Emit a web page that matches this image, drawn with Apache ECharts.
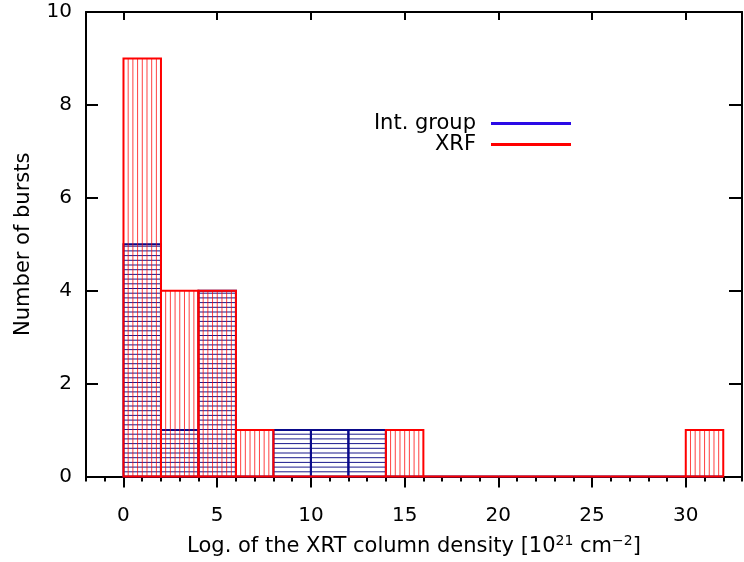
<!DOCTYPE html>
<html>
<head>
<meta charset="utf-8">
<script src="https://cdn.jsdelivr.net/npm/echarts@6/dist/echarts.min.js"></script>
<style>
  html, body { margin: 0; padding: 0; background: #fff; }
  #chart { width: 744px; height: 562px; }
</style>
</head>
<body>
<div id="chart"></div>
<script>
// histogram bins (left edges, width 2)
var binWidth = 2;
var binStarts = [0, 2, 4, 6, 8, 10, 12, 14, 16, 18, 20, 22, 24, 26, 28, 30];
var xrfCounts = [9, 4, 4, 1, 0, 0, 0, 1, 0, 0, 0, 0, 0, 0, 0, 1];
var intCounts = [5, 1, 4, 0, 1, 1, 1, 0, 0, 0, 0, 0, 0, 0, 0, 0];

// axis ticks
var xMajorTicks = [0, 5, 10, 15, 20, 25, 30];
var xMinorTicks = [];
for (var t = -2; t <= 33; t++) {
    if (t % 5 !== 0) xMinorTicks.push(t);
}

var font = 'DejaVu Sans';

// draws one bin: outline + hatch lines (vertical or horizontal)
function hatchRender(dir, hatchColor, edgeColor) {
    return function (params, api) {
        var x0 = api.value(0);
        var n = api.value(1);
        var p0 = api.coord([x0, 0]);
        var p1 = api.coord([x0 + binWidth, n]);
        var left = p0[0], right = p1[0], bottom = p0[1], top = p1[1];
        var step = 4.7;
        var children = [];
        if (dir === 'v') {
            for (var x = left + step; x < right - 1.5; x += step) {
                children.push({
                    type: 'line',
                    shape: {x1: x, y1: top, x2: x, y2: bottom},
                    style: {stroke: hatchColor, lineWidth: 1}
                });
            }
        } else {
            for (var y = bottom - step; y > top + 1.5; y -= step) {
                children.push({
                    type: 'line',
                    shape: {x1: left, y1: y, x2: right, y2: y},
                    style: {stroke: hatchColor, lineWidth: 1}
                });
            }
        }
        children.push({
            type: 'rect',
            shape: {x: left, y: top, width: right - left, height: bottom - top},
            style: {fill: null, stroke: edgeColor, lineWidth: 2}
        });
        return {type: 'group', children: children};
    };
}

var xrfData = binStarts.map(function (b, i) { return [b, xrfCounts[i]]; });
var intData = binStarts.map(function (b, i) { return [b, intCounts[i]]; });

var axisLineStyle = {color: '#000', width: 2};
var legendText = {fontFamily: font, fontSize: 21, color: '#000', padding: [0, 10, 0, 0]};

var option = {
    animation: false,
    backgroundColor: '#fff',
    grid: {left: 86, right: 2, top: 12, bottom: 85},
    legend: [
        {
            data: [{name: 'Int. group', itemStyle: {color: '#2a0ae6'}}],
            right: 168, top: 108,
            align: 'right', icon: 'rect',
            itemWidth: 80, itemHeight: 3,
            textStyle: legendText,
            selectedMode: false
        },
        {
            data: [{name: 'XRF', itemStyle: {color: '#ff0000'}}],
            right: 168, top: 129,
            align: 'right', icon: 'rect',
            itemWidth: 80, itemHeight: 3,
            textStyle: legendText,
            selectedMode: false
        }
    ],
    xAxis: [
        {
            type: 'value', position: 'bottom', min: -2, max: 33,
            axisLine: {onZero: false, lineStyle: axisLineStyle},
            axisTick: {customValues: xMajorTicks, length: 11, lineStyle: axisLineStyle},
            axisLabel: {customValues: xMajorTicks, margin: 29, fontFamily: font, fontSize: 20, color: '#000'},
            splitLine: {show: false},
            name: 'Log. of the XRT column density [10{sup|21} cm{sup|−2}]',
            nameLocation: 'middle', nameGap: 58,
            nameTextStyle: {
                fontFamily: font, fontSize: 21, color: '#000',
                rich: {sup: {fontFamily: font, fontSize: 14, color: '#000', verticalAlign: 'top', padding: [0, 0, 10, 0]}}
            }
        },
        {
            type: 'value', position: 'bottom', min: -2, max: 33,
            axisLine: {show: false},
            axisTick: {customValues: xMinorTicks, length: 5, lineStyle: axisLineStyle},
            axisLabel: {show: false},
            splitLine: {show: false}
        },
        {
            type: 'value', position: 'top', min: -2, max: 33,
            axisLine: {onZero: false, lineStyle: axisLineStyle},
            axisTick: {customValues: xMajorTicks, inside: true, length: 8, lineStyle: axisLineStyle},
            axisLabel: {show: false},
            splitLine: {show: false}
        }
    ],
    yAxis: [
        {
            type: 'value', position: 'left', min: 0, max: 10, interval: 2,
            axisLine: {show: true, onZero: false, lineStyle: axisLineStyle},
            axisTick: {inside: true, length: 12, lineStyle: axisLineStyle},
            axisLabel: {margin: 14, fontFamily: font, fontSize: 20, color: '#000'},
            splitLine: {show: false},
            name: 'Number of bursts', nameLocation: 'middle', nameGap: 52,
            nameTextStyle: {fontFamily: font, fontSize: 21, color: '#000'}
        },
        {
            type: 'value', position: 'right', min: 0, max: 10, interval: 2,
            axisLine: {show: true, onZero: false, lineStyle: axisLineStyle},
            axisTick: {inside: true, length: 13, lineStyle: axisLineStyle},
            axisLabel: {show: false},
            splitLine: {show: false}
        }
    ],
    series: [
        {
            name: 'Int. group',
            type: 'custom',
            xAxisIndex: 0, yAxisIndex: 0,
            renderItem: hatchRender('h', 'rgba(0,0,128,0.9)', '#0a0a8a'),
            encode: {x: 0, y: 1},
            data: intData,
            z: 2
        },
        {
            name: 'XRF',
            type: 'custom',
            xAxisIndex: 0, yAxisIndex: 0,
            renderItem: hatchRender('v', 'rgba(255,0,0,0.75)', '#ff0000'),
            encode: {x: 0, y: 1},
            data: xrfData,
            z: 3
        }
    ]
};

var myChart = echarts.init(document.getElementById('chart'));
myChart.setOption(option);
</script>
</body>
</html>
